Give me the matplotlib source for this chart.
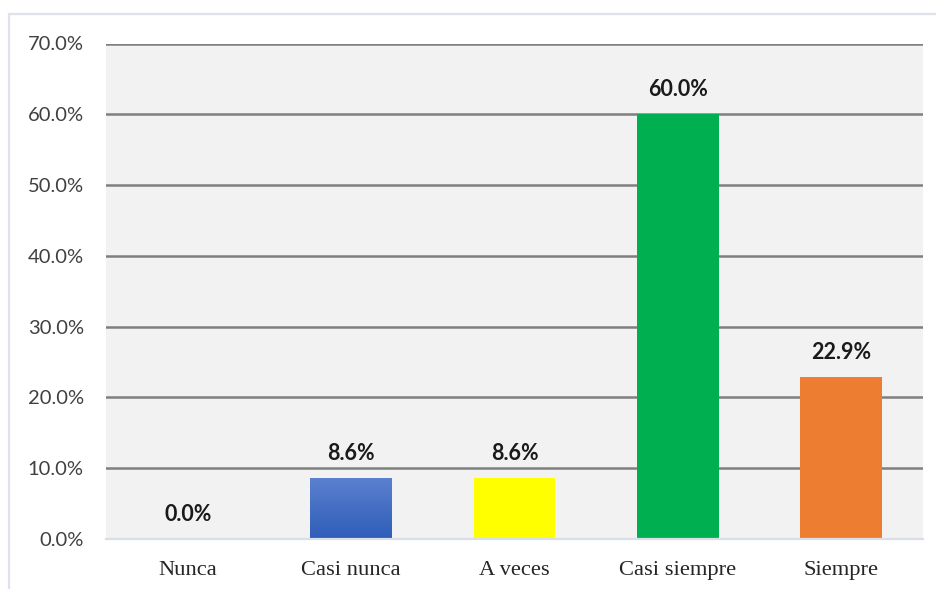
import matplotlib
matplotlib.use("Agg")
import matplotlib.pyplot as plt
import numpy as np
from matplotlib.patches import Rectangle
from matplotlib.colors import LinearSegmentedColormap
from matplotlib.ticker import FuncFormatter, MultipleLocator

categories = ["Nunca", "Casi nunca", "A veces", "Casi siempre", "Siempre"]
values = [0.0, 8.6, 8.6, 60.0, 22.9]
colors = ["#4472C4", "#3A66C4", "#FFFF00", "#00B050", "#ED7D31"]

fig = plt.figure(figsize=(9.36, 5.89), dpi=100)
fig.patch.set_facecolor("white")
# outer light border
fig.patches.append(Rectangle((9/936, -0.1), 1.2, 1 - 14/589 + 0.1, transform=fig.transFigure,
                             fill=False, edgecolor="#DDE2EB", linewidth=1.6, zorder=0))

ax = fig.add_axes([106/936, 50/589, 817/936, 495.5/589])
ax.set_facecolor("#F2F2F2")

x = np.arange(len(categories))
bars = ax.bar(x, values, width=0.5, color=colors, zorder=3, linewidth=0)

# gradient for the blue bar
blue_bar = bars[1]
cmap = LinearSegmentedColormap.from_list("bl", ["#2E5DB9", "#5B80CF"])
grad = np.linspace(0, 1, 256).reshape(-1, 1)
bx, by, bw, bh = blue_bar.get_x(), blue_bar.get_y(), blue_bar.get_width(), blue_bar.get_height()
im = ax.imshow(grad, cmap=cmap, aspect="auto", origin="lower",
               extent=[bx, bx + bw, by, by + bh], zorder=4)
im.set_clip_path(blue_bar)

ax.set_xlim(-0.5, len(categories) - 0.5)
ax.set_ylim(0, 70)
ax.yaxis.set_major_locator(MultipleLocator(10))
ax.yaxis.set_major_formatter(FuncFormatter(lambda v, p: f"{v:.1f}%"))
ax.grid(axis="y", color="#7F7F7F", linewidth=1.8, zorder=1)
ax.set_axisbelow(True)

for s in ["left", "right", "top"]:
    ax.spines[s].set_visible(False)
ax.spines["bottom"].set_color("#D9DEE8")
ax.spines["bottom"].set_linewidth(1.6)
ax.spines["bottom"].set_zorder(5)

ax.set_xticks(x)
ax.set_xticklabels(categories, fontfamily="Liberation Serif", fontsize=16.2, color="#262626")
ax.tick_params(axis="x", length=0, pad=15.5)
ax.tick_params(axis="y", length=0, pad=16, labelsize=14.5, labelcolor="#404040")
for lab in ax.get_yticklabels():
    lab.set_fontfamily("Lato")

for xi, v in zip(x, values):
    ax.annotate(f"{v:.1f}%", (xi, v), xytext=(0, 10), textcoords="offset points",
                ha="center", va="bottom", fontsize=15.5, fontweight="bold",
                fontfamily="Lato", color="#1A1A1A", zorder=6)

fig.savefig("out.png", dpi=100, facecolor="white")
